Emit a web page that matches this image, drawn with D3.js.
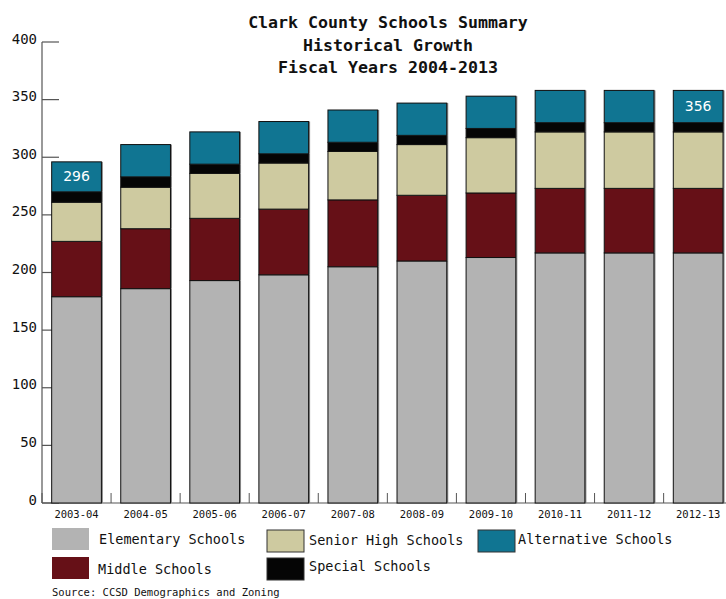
<!DOCTYPE html>
<html>
<head>
<meta charset="utf-8">
<script src="https://cdn.jsdelivr.net/npm/d3@7"></script>
<style>
  html, body { margin: 0; padding: 0; background: #fff; }
  svg { display: block; }
</style>
</head>
<body>
<svg id="chart" width="726" height="599"></svg>
<script>
const categories = ["2003-04","2004-05","2005-06","2006-07","2007-08","2008-09","2009-10","2010-11","2011-12","2012-13"];
const elementary  = [179,186,193,198,205,210,213,217,217,217];
const middle      = [48,52,54,57,58,57,56,56,56,56];
const seniorHigh  = [34,36,39,40,42,44,48,49,49,49];
const special     = [9,9,8,8,8,8,8,8,8,8];
const alternative = [26,28,28,28,28,28,28,28,28,28];
const barLabels   = ["296","","","","","","","","","356"];
const yTicks      = [0,50,100,150,200,250,300,350,400];
const titleLines  = ["Clark County Schools Summary","Historical Growth","Fiscal Years 2004-2013"];
const seriesNames = ["Elementary Schools","Middle Schools","Senior High Schools","Special Schools","Alternative Schools"];
const seriesKeys  = ["elementary","middle","seniorHigh","special","alternative"];
const seriesColors = ["#b3b3b3","#661017","#cecaa0","#050505","#107592"];
const sourceText = "Source: CCSD Demographics and Zoning";

const rows = categories.map((c, i) => ({
  cat: c,
  elementary: elementary[i], middle: middle[i], seniorHigh: seniorHigh[i],
  special: special[i], alternative: alternative[i], label: barLabels[i]
}));

const svg = d3.select("#chart");
const mono = "'DejaVu Sans Mono', 'Liberation Mono', monospace";

const x = d3.scaleBand().domain(categories).range([42, 732.7]).paddingInner(0.28).paddingOuter(0.14);
const y = d3.scaleLinear().domain([0, 400]).range([503, 42]);
const color = d3.scaleOrdinal().domain(seriesKeys).range(seriesColors);

// Title
svg.append("g").selectAll("text").data(titleLines).join("text")
  .attr("x", 388).attr("y", (d, i) => 28 + i * 22.5)
  .attr("text-anchor", "middle")
  .attr("font-family", mono).attr("font-weight", "bold").attr("font-size", 16.6)
  .attr("fill", "#111")
  .text(d => d);

// Y axis
const yAxis = svg.append("g");
yAxis.append("line").attr("x1", 42).attr("x2", 42).attr("y1", y(400)).attr("y2", y(0))
  .attr("stroke", "#555").attr("stroke-width", 1.2);
yAxis.selectAll("line.tick").data(yTicks).join("line").attr("class", "tick")
  .attr("x1", 42).attr("x2", 59).attr("y1", d => y(d)).attr("y2", d => y(d))
  .attr("stroke", "#555").attr("stroke-width", 1.2);
yAxis.selectAll("text").data(yTicks).join("text")
  .attr("x", 37).attr("y", d => y(d) + 1.5)
  .attr("text-anchor", "end")
  .attr("font-family", mono).attr("font-size", 14).attr("fill", "#111")
  .text(d => d);

// X axis baseline and band ticks
const xAxis = svg.append("g");
xAxis.append("line").attr("x1", 42).attr("x2", 726).attr("y1", y(0)).attr("y2", y(0))
  .attr("stroke", "#555").attr("stroke-width", 1.2);
const bandEdges = categories.map(c => x(c) - x.step() * x.paddingInner() / 2).concat([x(categories[categories.length - 1]) + x.bandwidth() + x.step() * x.paddingInner() / 2]);
xAxis.selectAll("line.edge").data(bandEdges).join("line").attr("class", "edge")
  .attr("x1", d => d).attr("x2", d => d).attr("y1", y(0)).attr("y2", y(0) - 10)
  .attr("stroke", "#555").attr("stroke-width", 1);
xAxis.selectAll("text").data(categories).join("text")
  .attr("x", d => x(d) + x.bandwidth() / 2).attr("y", 518)
  .attr("text-anchor", "middle")
  .attr("font-family", mono).attr("font-size", 10.5).attr("fill", "#111")
  .text(d => d);

// Stacked bars
const stack = d3.stack().keys(seriesKeys);
const stacked = stack(rows);

const layers = svg.append("g").selectAll("g").data(stacked).join("g")
  .attr("fill", d => color(d.key));

// subtle shadow on the right edge
layers.selectAll("rect.shadow").data(d => d).join("rect").attr("class", "shadow")
  .attr("x", d => x(d.data.cat) + 1.5)
  .attr("y", d => y(d[1]))
  .attr("width", x.bandwidth())
  .attr("height", d => y(d[0]) - y(d[1]))
  .attr("fill", "#888");

layers.selectAll("rect.seg").data(d => d).join("rect").attr("class", "seg")
  .attr("x", d => x(d.data.cat))
  .attr("y", d => y(d[1]))
  .attr("width", x.bandwidth())
  .attr("height", d => y(d[0]) - y(d[1]))
  .attr("stroke", "#111").attr("stroke-width", 1);

// Labels in top (alternative) segment
const topLayer = stacked[stacked.length - 1];
svg.append("g").selectAll("text").data(topLayer.filter(d => d.data.label !== "")).join("text")
  .attr("x", d => x(d.data.cat) + x.bandwidth() / 2)
  .attr("y", d => (y(d[0]) + y(d[1])) / 2 + 4)
  .attr("text-anchor", "middle")
  .attr("font-family", "'DejaVu Sans', sans-serif").attr("font-size", 14)
  .attr("fill", "#fff")
  .text(d => d.data.label);

// Legend
const legendPos = {
  elementary:  {sx: 52,  sy: 528, tx: 99,  ty: 544},
  middle:      {sx: 52,  sy: 557, tx: 98,  ty: 574},
  seniorHigh:  {sx: 267, sy: 530, tx: 309, ty: 545},
  special:     {sx: 267, sy: 558, tx: 309, ty: 571},
  alternative: {sx: 478, sy: 530, tx: 518, ty: 544}
};
const legend = svg.append("g").selectAll("g").data(seriesKeys).join("g");
legend.append("rect")
  .attr("x", d => legendPos[d].sx).attr("y", d => legendPos[d].sy)
  .attr("width", 37).attr("height", 22)
  .attr("fill", d => color(d))
  .attr("stroke", d => (d === "seniorHigh" || d === "alternative" || d === "special") ? "#333" : "none")
  .attr("stroke-width", 1);
legend.append("text")
  .attr("x", d => legendPos[d].tx).attr("y", d => legendPos[d].ty)
  .attr("font-family", mono).attr("font-size", 13.5).attr("fill", "#111")
  .text(d => seriesNames[seriesKeys.indexOf(d)]);

// Source
svg.append("text").attr("x", 52).attr("y", 596)
  .attr("font-family", mono).attr("font-size", 10.5).attr("fill", "#111")
  .text(sourceText);
</script>
</body>
</html>
